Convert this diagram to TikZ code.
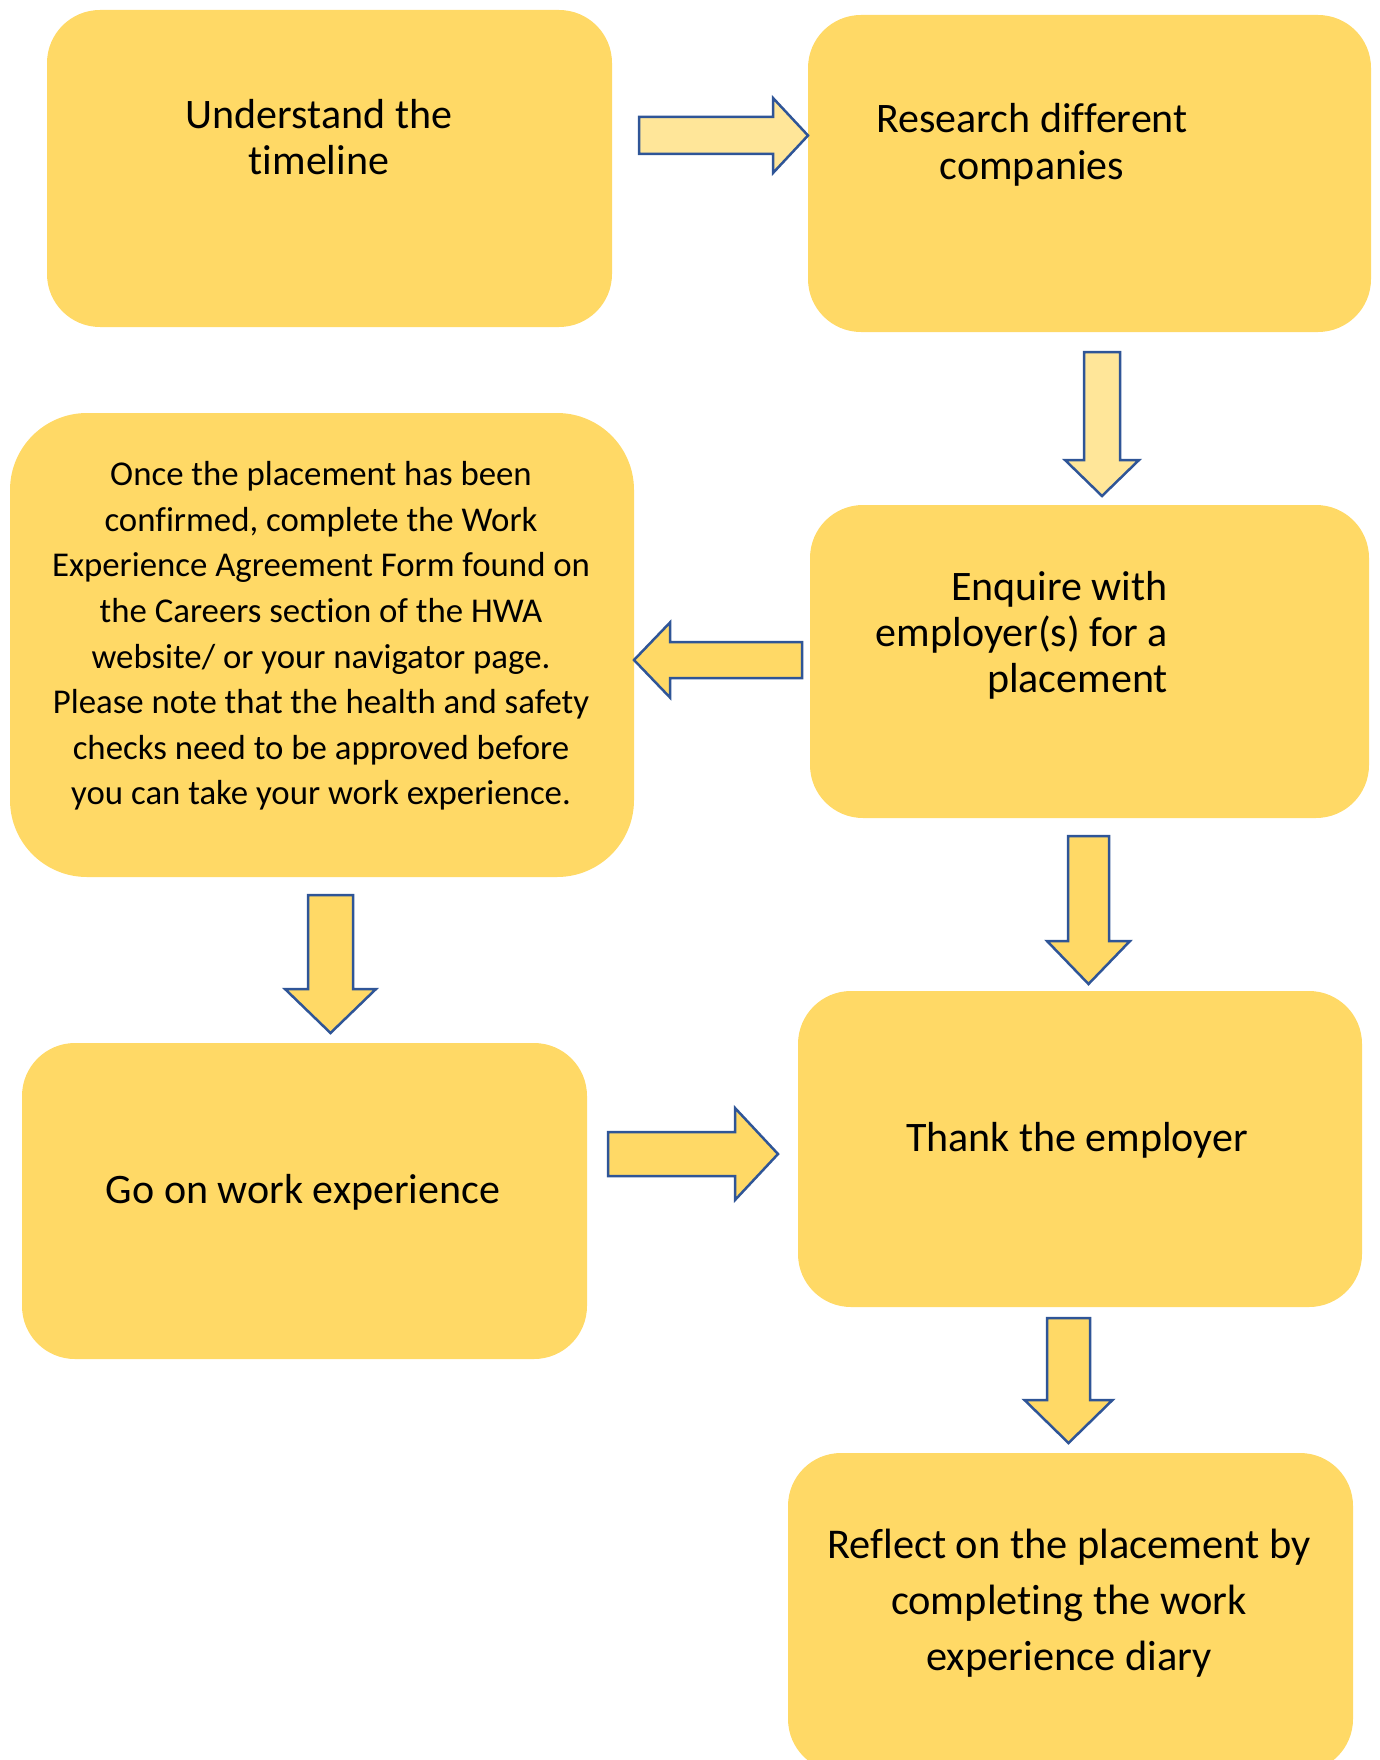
\documentclass[tikz,border=0pt]{standalone}
\usepackage{fontspec}
\setmainfont{Carlito}[Ligatures=NoCommon]
\usetikzlibrary{calc}
\definecolor{boxfill}{HTML}{FFD966}
\definecolor{arrowpale}{HTML}{FFE699}
\definecolor{arrowline}{HTML}{2F5597}
% block arrow: style, tail, tip, shaft half-width, head half-width, head length
\newcommand\blockarrow[6]{%
  \draw[#1]
    ($(#2)!#4!90:(#3)$) --
    ($($(#3)!#6!(#2)$)!#4!-90:(#2)$) --
    ($($(#3)!#6!(#2)$)!#5!-90:(#2)$) --
    (#3) --
    ($($(#3)!#6!(#2)$)!#5!90:(#2)$) --
    ($($(#3)!#6!(#2)$)!#4!90:(#2)$) --
    ($(#2)!#4!-90:(#3)$) -- cycle;}
\begin{document}
\begin{tikzpicture}[x=1pt,y=-1pt,
  stepbox/.style={fill=boxfill, draw=none, rounded corners=53pt, inner sep=0pt},
  bigbox/.style={stepbox, rounded corners=77pt},
  steptext/.style={text=black, align=center, inner sep=0pt, font={\fontsize{42}{46}\selectfont}},
  blockarrow/.style={draw=arrowline, line width=2.5pt, line join=miter, fill=boxfill},
  palearrow/.style={blockarrow, fill=arrowpale}]
\useasboundingbox (0,0) rectangle (1379,1760);

% step boxes
\node[stepbox, minimum width=565pt, minimum height=317pt] (b1) at (329.5,168.5) {};
\node[stepbox, minimum width=563pt, minimum height=317pt] (b2) at (1089.5,173.5) {};
\node[bigbox,  minimum width=624pt, minimum height=464pt] (b3) at (322,645) {};
\node[stepbox, minimum width=559pt, minimum height=313pt] (b4) at (1089.5,661.5) {};
\node[stepbox, minimum width=565pt, minimum height=316pt] (b5) at (304.5,1201) {};
\node[stepbox, minimum width=564pt, minimum height=316pt] (b6) at (1080,1149) {};
\node[stepbox, minimum width=565pt, minimum height=319pt] (b7) at (1070.5,1612.5) {};

% step texts
\node[steptext] (t1) at (319,137.5) {Understand the\\timeline};
\node[steptext, font={\fontsize{42}{47}\selectfont}] (t2) at (1032,145) {Research different\\companies};
\node[steptext, font={\fontsize{34.8}{45.6}\selectfont}] (t3) at (321,636)
  {Once the placement has been\\confirmed, complete the Work\\Experience Agreement Form found on\\the Careers section of the HWA\\website/ or your navigator page.\\Please note that the health and safety\\checks need to be approved before\\you can take your work experience.};
\node[steptext, align=right, anchor=east] (t4) at (1168,635) {Enquire with\\employer(s) for a\\placement};
\node[steptext] (t5) at (303,1192) {Go on work experience};
\node[steptext] (t6) at (1077,1140.5) {Thank the employer};
\node[steptext, font={\fontsize{42.4}{56}\selectfont}] (t7) at (1069,1603.5)
  {Reflect on the placement by\\completing the work\\experience diary};

% arrow ends
\coordinate (a1s) at (639,135.5);  \coordinate (a1e) at (808,135.5);
\coordinate (a2s) at (1102,352);   \coordinate (a2e) at (1102,496);
\coordinate (a3s) at (802,660);    \coordinate (a3e) at (634,660);
\coordinate (a4s) at (330.5,895);  \coordinate (a4e) at (330.5,1033);
\coordinate (a5s) at (608,1154);   \coordinate (a5e) at (778,1154);
\coordinate (a6s) at (1088.5,836); \coordinate (a6e) at (1088.5,984);
\coordinate (a7s) at (1068.5,1318);\coordinate (a7e) at (1068.5,1443);

% block arrows between the steps
\blockarrow{palearrow}{a1s}{a1e}{18.5pt}{37.5pt}{35pt}
\blockarrow{palearrow}{a2s}{a2e}{18pt}{37pt}{36pt}
\blockarrow{blockarrow}{a3s}{a3e}{18pt}{37.5pt}{36pt}
\blockarrow{blockarrow}{a4s}{a4e}{22.5pt}{45.5pt}{44pt}
\blockarrow{blockarrow}{a5s}{a5e}{22pt}{46pt}{43pt}
\blockarrow{blockarrow}{a6s}{a6e}{20.5pt}{41.5pt}{43pt}
\blockarrow{blockarrow}{a7s}{a7e}{21.5pt}{44pt}{43pt}
\end{tikzpicture}
\end{document}
